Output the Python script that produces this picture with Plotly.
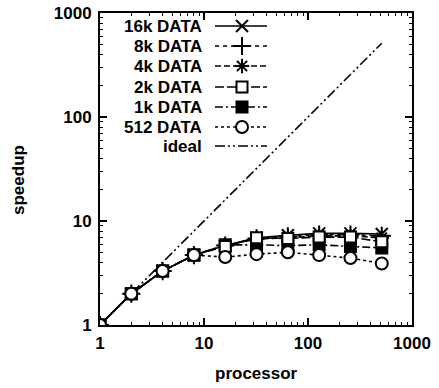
import plotly.graph_objects as go

processors = [1, 2, 4, 8, 16, 32, 64, 128, 256, 512]
speedup_16k = [1, 2, 3.3, 4.7, 5.8, 6.9, 7.3, 7.6, 7.6, 7.5]
speedup_8k = [1, 2, 3.3, 4.7, 5.8, 6.8, 7.1, 7.4, 7.4, 7.2]
speedup_4k = [1, 2, 3.3, 4.7, 5.8, 6.7, 6.9, 7.2, 7.2, 6.9]
speedup_2k = [1, 2, 3.3, 4.7, 5.7, 6.9, 6.8, 7.0, 7.0, 6.3]
speedup_1k = [1, 2, 3.3, 4.7, 5.9, 5.9, 5.8, 5.9, 5.7, 5.5]
speedup_512 = [1, 2, 3.3, 4.7, 4.5, 4.8, 5.0, 4.7, 4.4, 3.9]
ideal_x = [1, 512]
ideal_y = [1, 512]

series_names = ["16k DATA", "8k DATA", "4k DATA", "2k DATA", "1k DATA", "512 DATA", "ideal"]

FONT = "Liberation Sans, Arial, sans-serif"
styles = [
    dict(dash="solid", symbol="x-thin", fill="black", size=12),
    dict(dash="4px,4px", symbol="cross-thin", fill="black", size=13),
    dict(dash="6px,3px", symbol="asterisk", fill="black", size=12),
    dict(dash="9px,3px", symbol="square", fill="white", size=11),
    dict(dash="8px,3px,2px,3px", symbol="square", fill="black", size=11),
    dict(dash="3px,3px", symbol="circle", fill="white", size=12),
]
data_series = [speedup_16k, speedup_8k, speedup_4k, speedup_2k, speedup_1k, speedup_512]

fig = go.Figure()

fig.add_trace(go.Scatter(x=ideal_x, y=ideal_y, mode="lines",
                         line=dict(color="black", width=1.6, dash="10px,3px,2px,3px,2px,3px"),
                         showlegend=False))

draw_order = [0, 1, 2, 4, 3, 5]
for i in draw_order:
    vals, st = data_series[i], styles[i]
    fig.add_trace(go.Scatter(
        x=processors, y=vals, mode="lines+markers",
        line=dict(color="black", width=1.6, dash=st["dash"]),
        marker=dict(symbol=st["symbol"], size=st["size"], color=st["fill"],
                    line=dict(color="black", width=2)),
        showlegend=False))

# Legend drawn on an overlay axis (fractions of plot area)
W, H = 439, 388
L, R, T, B = 100, 412, 13, 325
row_px = [26, 46, 66, 87, 107, 127, 146]
x0 = (215 - L) / (R - L)
x1 = (267 - L) / (R - L)
xm = (242 - L) / (R - L)
xt = (204 - L) / (R - L)
all_styles = styles + [dict(dash="10px,3px,2px,3px,2px,3px", symbol=None)]
for name, st, py in zip(series_names, all_styles, row_px):
    fy = (B - py) / (B - T)
    fig.add_trace(go.Scatter(x=[x0, x1], y=[fy, fy], mode="lines", xaxis="x2", yaxis="y2",
                             line=dict(color="black", width=1.6, dash=st["dash"]),
                             showlegend=False, hoverinfo="skip"))
    if st["symbol"]:
        fig.add_trace(go.Scatter(x=[xm], y=[fy], mode="markers", xaxis="x2", yaxis="y2",
                                 marker=dict(symbol=st["symbol"], size=st["size"], color=st["fill"],
                                             line=dict(color="black", width=2)),
                                 showlegend=False, hoverinfo="skip"))
    fig.add_annotation(x=xt, y=fy, xref="x2", yref="y2", text=name, showarrow=False,
                       xanchor="right", yanchor="middle",
                       font=dict(family=FONT, size=17, color="black", weight="bold"))

title_font = dict(family=FONT, size=17, color="black", weight="bold")
fig.add_annotation(x=(256 - L) / (R - L), y=-(374 - B) / (B - T), xref="paper", yref="paper",
                   text="processor", showarrow=False, xanchor="center", yanchor="middle",
                   font=title_font)
fig.add_annotation(x=-(L - 18) / (R - L), y=(B - 180) / (B - T), xref="paper", yref="paper",
                   text="speedup", showarrow=False, xanchor="center", yanchor="middle",
                   textangle=-90, font=title_font)

axis_common = dict(
    type="log", range=[0, 3], showgrid=False, zeroline=False, automargin=False,
    showline=True, linecolor="black", linewidth=2, mirror="ticks",
    ticks="inside", ticklen=7, tickwidth=1.5, tickcolor="black",
    tickvals=[1, 10, 100, 1000], ticktext=["1", "10", "100", "1000"],
    minor=dict(ticks="inside", ticklen=3, tickwidth=1, tickcolor="black", dtick="D1", showgrid=False),
    tickfont=dict(family=FONT, size=17, color="black", weight="bold"),
)

fig.update_layout(
    width=W, height=H,
    margin=dict(l=L, r=W - R, t=T, b=H - B, autoexpand=False),
    paper_bgcolor="white", plot_bgcolor="white",
    xaxis=dict(axis_common, ticklabelstandoff=2),
    yaxis=dict(axis_common, ticklabelstandoff=3),
    xaxis2=dict(overlaying="x", range=[0, 1], visible=False, anchor="y2", automargin=False),
    yaxis2=dict(overlaying="y", range=[0, 1], visible=False, anchor="x2", automargin=False),
    showlegend=False,
)

fig.write_html("out.html", config={"displayModeBar": False},
               post_script="document.body.style.margin='0';document.body.style.overflow='hidden';")
